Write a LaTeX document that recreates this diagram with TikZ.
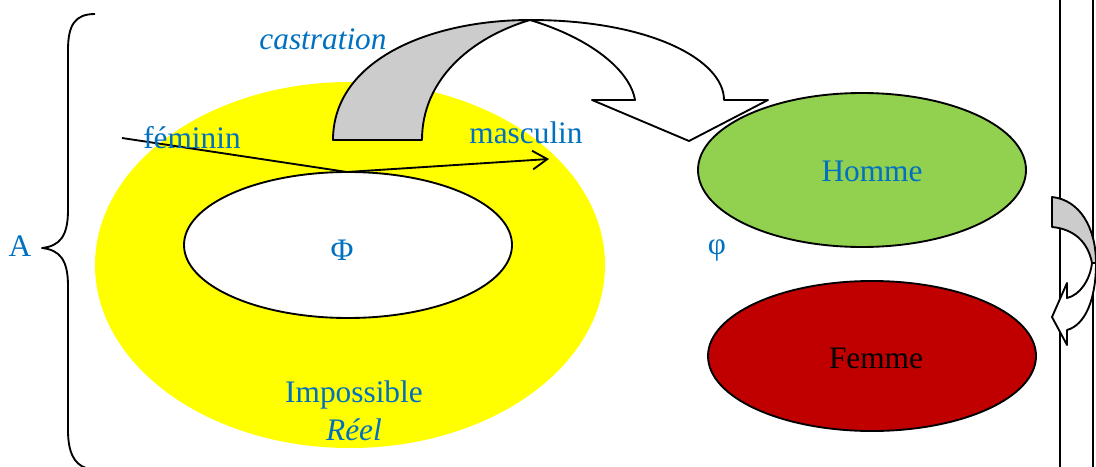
\documentclass[tikz,border=0pt]{standalone}
\usepackage{fontspec}
\setmainfont{Liberation Serif}
\usepackage{tikz}
\usetikzlibrary{arrows.meta}
\definecolor{bleu}{HTML}{0070C0}
\definecolor{jaune}{HTML}{FFFF00}
\definecolor{vert}{HTML}{92D050}
\definecolor{rouge}{HTML}{C00000}
\definecolor{gris}{HTML}{CCCCCC}
\tikzset{
  lbl/.style={text=bleu, font=\fontsize{23.5}{28}\selectfont, inner sep=0pt},
  bord/.style={line width=1.4pt, line join=round},
}

\begin{document}
\begin{tikzpicture}[x=0.75pt,y=-0.75pt]
\useasboundingbox (0,0) rectangle (1096,467);
\fill[jaune] (350,265) ellipse (255 and 183);
\draw[bord, fill=white] (348,245) ellipse (164 and 73);
\draw[bord, fill=vert] (862,170) ellipse (164 and 77);
\draw[bord, fill=rouge] (872,356) ellipse (164 and 75);
\draw[bord] (1060,-2) -- (1060,469);
\draw[bord] (1093,-2) -- (1093,469);
\draw[bord] (95,14) .. controls (75,14) and (68,25) .. (68,50) -- (68,210)
  .. controls (68,236) and (60,246) .. (42,248)
  .. controls (60,250) and (68,260) .. (68,286) -- (68,430)
  .. controls (68,452) and (74,464) .. (86,468);
\draw[bord, fill=gris] (333,140) .. controls (333,60) and (430,20) .. (530,20)
  .. controls (470,38) and (422,80) .. (422,140) -- cycle;
\draw[bord, fill=white] (530,20) .. controls (650,20) and (724,60) .. (724,100)
  -- (768,100) -- (689,141) -- (592,100) -- (635,100)
  .. controls (630,70) and (590,38) .. (530,20) -- cycle;
\draw[bord, fill=gris] (1052,197) .. controls (1080,200) and (1096,228) .. (1096,263)
  -- (1092,263) .. controls (1088,242) and (1074,229) .. (1052,227) -- cycle;
\draw[bord, fill=white] (1096,263) .. controls (1096,300) and (1085,325) .. (1067,330)
  -- (1067,345) -- (1052,317) -- (1067,283) -- (1067,298)
  .. controls (1080,295) and (1090,280) .. (1092,263) -- cycle;
\coordinate (fem) at (122,138);
\coordinate (pli) at (347,172);
\coordinate (masc) at (549,159);
\draw[bord, -{Straight Barb[length=11pt,width=14pt]}] (fem) -- (pli) -- (masc);
\node[lbl] (a) at (20,246) {A};
\node[lbl] (castr) at (323,39) {\itshape castration};
\node[lbl] (feminin) at (192,138) {féminin};
\node[lbl] (masculin) at (526,133) {masculin};
\node[lbl] (phi) at (342,250) {Φ};
\node[lbl] (phipetit) at (717,250) {φ};
\node[lbl] (homme) at (872,171) {Homme};
\node[lbl, text=black] (femme) at (876,358) {Femme};
\node[lbl] (imposs) at (354,395) {Impossible};
\node[lbl] (reel) at (354,430) {\itshape Réel};
\end{tikzpicture}
\end{document}
